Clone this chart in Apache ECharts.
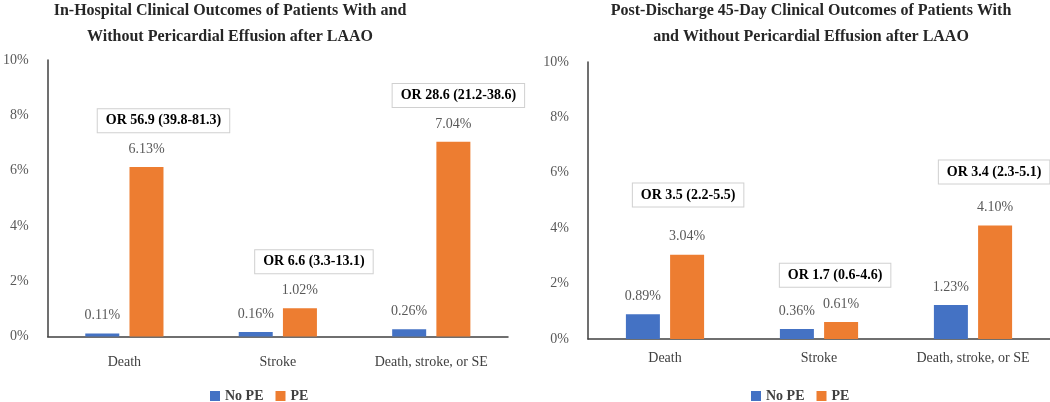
<!DOCTYPE html>
<html>
<head>
<meta charset="utf-8">
<script src="https://cdn.jsdelivr.net/npm/echarts@6/dist/echarts.min.js"></script>
<style>
html,body{margin:0;padding:0;background:#fff;}
#chart{width:1050px;height:402px;}
</style>
</head>
<body>
<div id="chart"></div>
<script>
// ---- data ----
const categories = ['Death', 'Stroke', 'Death, stroke, or SE'];
const seriesNames = ['No PE', 'PE'];
const yTicks = [0, 2, 4, 6, 8, 10];

const leftTitle = 'In-Hospital Clinical Outcomes of Patients With and\nWithout Pericardial Effusion after LAAO';
const leftNoPE = [0.11, 0.16, 0.26];
const leftPE = [6.13, 1.02, 7.04];
const leftOR = ['OR 56.9 (39.8-81.3)', 'OR 6.6 (3.3-13.1)', 'OR 28.6 (21.2-38.6)'];

const rightTitle = 'Post-Discharge 45-Day Clinical Outcomes of Patients With\nand Without Pericardial Effusion after LAAO';
const rightNoPE = [0.89, 0.36, 1.23];
const rightPE = [3.04, 0.61, 4.10];
const rightOR = ['OR 3.5 (2.2-5.5)', 'OR 1.7 (0.6-4.6)', 'OR 3.4 (2.3-5.1)'];

// ---- annotation layout (data-space height, pixel x-shift) ----
const leftORy = [7.8, 2.7, 8.72];
const leftORdx = [17, 14, 5];
const rightORy = [5.2, 2.3, 6.03];
const rightORdx = [1, -6, -1];

const BLUE = '#4472C4', ORANGE = '#ED7D31';
const SERIF = '"Liberation Serif", "DejaVu Serif", serif';
const fmt = v => v.toFixed(2) + '%';

function orMarks(labels, ys, dxs) {
  return labels.map((t, i) => ({
    name: t,
    coord: [categories[i], ys[i]],
    label: { offset: [dxs[i], 0] }
  }));
}

function barSeries(name, data, color, axisIdx, marks) {
  const s = {
    name: name,
    type: 'bar',
    xAxisIndex: axisIdx,
    yAxisIndex: axisIdx,
    data: data,
    barWidth: 34,
    barGap: '30%',
    itemStyle: { color: color },
    label: {
      show: true,
      position: 'top',
      distance: 11,
      formatter: p => fmt(p.value),
      fontFamily: SERIF,
      fontSize: 14,
      color: '#595959'
    }
  };
  if (marks) {
    s.markPoint = {
      symbol: 'rect',
      symbolSize: 0,
      data: marks,
      label: {
        show: true,
        position: 'inside',
        formatter: '{b}',
        fontFamily: SERIF,
        fontSize: 14,
        fontWeight: 'bold',
        color: '#000',
        backgroundColor: '#fff',
        borderColor: '#d0d0d0',
        borderWidth: 1,
        padding: [5, 8, 4, 8]
      }
    };
  }
  return s;
}

function xAxis(gridIndex, margin) {
  return {
    type: 'category',
    gridIndex: gridIndex,
    data: categories,
    axisLine: { show: true, lineStyle: { color: '#404040', width: 1.5 } },
    axisTick: { show: false },
    axisLabel: { fontFamily: SERIF, fontSize: 14, color: '#404040', margin: margin }
  };
}
function yAxis(gridIndex) {
  return {
    type: 'value',
    gridIndex: gridIndex,
    min: yTicks[0],
    max: yTicks[yTicks.length - 1],
    interval: yTicks[1] - yTicks[0],
    axisLine: { show: true, lineStyle: { color: '#404040', width: 1.5 } },
    axisTick: { show: false },
    splitLine: { show: false },
    axisLabel: { formatter: '{value}%', fontFamily: SERIF, fontSize: 14, color: '#595959', margin: 19 }
  };
}

const titleStyle = { fontFamily: SERIF, fontSize: 16, fontWeight: 'bold', color: '#262626', lineHeight: 26 };

const chart = echarts.init(document.getElementById('chart'), null, { renderer: 'canvas' });
chart.setOption({
  animation: false,
  backgroundColor: '#fff',
  title: [
    { text: leftTitle, left: 230, top: -2, padding: 0, textAlign: 'center', textStyle: titleStyle },
    { text: rightTitle, left: 811, top: -2, padding: 0, textAlign: 'center', textStyle: titleStyle }
  ],
  legend: [
    { data: seriesNames, left: 205, top: 384, icon: 'rect', itemWidth: 10, itemHeight: 10, itemGap: 12,
      textStyle: { fontFamily: SERIF, fontSize: 14, fontWeight: 'bold', color: '#404040' } },
    { data: seriesNames, left: 746, top: 384, icon: 'rect', itemWidth: 10, itemHeight: 10, itemGap: 12,
      textStyle: { fontFamily: SERIF, fontSize: 14, fontWeight: 'bold', color: '#404040' } }
  ],
  grid: [
    { left: 46, right: 542, top: 60, bottom: 65.5, containLabel: false },
    { left: 588, right: 0, top: 62, bottom: 63, containLabel: false }
  ],
  xAxis: [xAxis(0, 19), xAxis(1, 12)],
  yAxis: [yAxis(0), yAxis(1)],
  series: [
    barSeries(seriesNames[0], leftNoPE, BLUE, 0),
    barSeries(seriesNames[1], leftPE, ORANGE, 0, orMarks(leftOR, leftORy, leftORdx)),
    barSeries(seriesNames[0], rightNoPE, BLUE, 1),
    barSeries(seriesNames[1], rightPE, ORANGE, 1, orMarks(rightOR, rightORy, rightORdx))
  ]
});
</script>
</body>
</html>
